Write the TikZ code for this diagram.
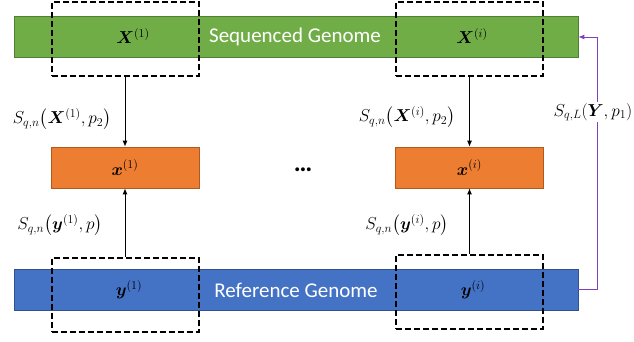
\documentclass[tikz,border=0pt]{standalone}
\usepackage{fontspec}
\setmainfont{Carlito}
\usepackage{amsmath,bm}
\usetikzlibrary{arrows.meta}
\definecolor{gfill}{HTML}{70AD47}
\definecolor{gdraw}{HTML}{507E32}
\definecolor{ofill}{HTML}{ED7D31}
\definecolor{odraw}{HTML}{AE5A21}
\definecolor{bfill}{HTML}{4472C4}
\definecolor{bdraw}{HTML}{2F528F}
\definecolor{purp}{HTML}{7F3FBF}
\tikzset{
  bar/.style={draw=#1, line width=0.6pt, minimum height=41pt, minimum width=564pt, inner sep=0pt},
  obox/.style={draw=odraw, fill=ofill, line width=0.6pt, minimum height=41pt, minimum width=148pt, inner sep=0pt, font=\fontsize{18}{21}\selectfont},
  dbox/.style={draw=black, dashed, dash pattern=on 6pt off 3pt, line width=2pt, minimum width=147pt, minimum height=74pt, inner sep=0pt},
  lbl/.style={font=\fontsize{18}{21}\selectfont, inner sep=1pt},
  arr/.style={-{Latex[length=6pt,width=5pt]}, line width=1pt},
  txt/.style={font=\fontsize{18}{21}\selectfont, inner sep=0pt},
  wtxt/.style={font=\fontsize{21}{24}\selectfont, inner sep=0pt, text=white}
}
\begin{document}
\begin{tikzpicture}[x=1pt,y=-1pt]
\useasboundingbox (0,0) rectangle (634,341);
% bars
\node[bar=gdraw, fill=gfill] (seq) at (296,36.5) {};
\node[bar=bdraw, fill=bfill] (ref) at (296,289.5) {};
\node[wtxt] (seqt) at (295,37) {Sequenced Genome};
\node[wtxt] (reft) at (296,290) {Reference Genome};
% orange boxes
\node[obox] (x1) at (125,167.5) {$\bm{x}^{(1)}$};
\node[obox] (xi) at (469.5,167.5) {$\bm{x}^{(i)}$};
% math inside bars
\node[txt] (X1) at (133,36) {$\bm{X}^{(1)}$};
\node[txt] (Xi) at (472,36) {$\bm{X}^{(i)}$};
\node[txt] (y1) at (129,290) {$\bm{y}^{(1)}$};
\node[txt] (yi) at (473,290) {$\bm{y}^{(i)}$};
% dashed boxes
\node[dbox] (d1) at (125,39) {};
\node[dbox] (di) at (469.5,39) {};
\node[dbox] (e1) at (125,294.5) {};
\node[dbox] (ei) at (469.5,292) {};
% arrows
\draw[arr] (d1.south) -- (x1.north);
\draw[arr] (di.south) -- (xi.north);
\draw[arr] (e1.north) -- (x1.south);
\draw[arr] (ei.north) -- (xi.south);
% labels
\node[lbl] (l1) at (62,119) {$S_{q,n}\bigl(\bm{X}^{(1)},p_2\bigr)$};
\node[lbl] (l2) at (407,117) {$S_{q,n}\bigl(\bm{X}^{(i)},p_2\bigr)$};
\node[lbl] (l3) at (60,225) {$S_{q,n}\bigl(\bm{y}^{(1)},p\bigr)$};
\node[lbl] (l4) at (407,225) {$S_{q,n}\bigl(\bm{y}^{(i)},p\bigr)$};
% dots
\node[txt] (dots) at (303,170) {\textbf{\fontsize{26}{28}\selectfont\dots}};
% purple feedback
\coordinate (pb) at (597,289);
\coordinate (pt) at (597,37);
\draw[purp, line width=1pt, -{Latex[length=6pt,width=5pt]}] (ref.east |- pb) -- (pb) -- (pt) -- (seq.east |- pt);
\node[lbl, fill=white] (l5) at (593,112) {$S_{q,L}(\bm{Y},p_1)$};
\end{tikzpicture}
\end{document}
